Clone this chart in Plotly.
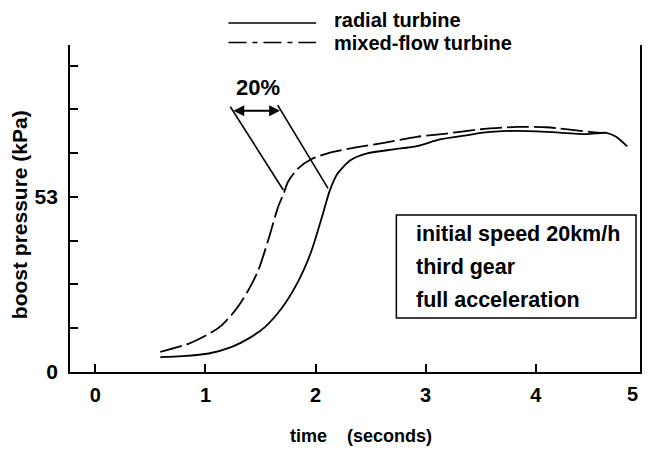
import plotly.graph_objects as go

# ---- data ----
radial_t = [0.59, 0.79, 1.03, 1.24, 1.39, 1.54, 1.69, 1.84, 1.96, 2.05, 2.13, 2.20, 2.32,
            2.47, 2.71, 2.92, 3.13, 3.38, 3.50, 3.80, 4.10, 4.46, 4.64, 4.73, 4.83]
radial_p = [4.5, 4.8, 5.6, 7.6, 10.1, 13.6, 19.2, 27.3, 36.4, 46.0, 55.0, 60.1, 64.2,
            66.2, 67.4, 68.4, 70.4, 71.7, 72.4, 73.0, 72.7, 72.0, 72.4, 71.2, 68.3]

mixed_t = [0.59, 0.85, 1.06, 1.15, 1.24, 1.32, 1.39, 1.48, 1.57, 1.66, 1.71, 1.75, 1.84,
           1.96, 2.11, 2.32, 2.62, 2.92, 3.19, 3.50, 3.83, 4.10, 4.49, 4.60]
mixed_p = [6.1, 8.6, 12.1, 14.2, 17.4, 21.0, 24.8, 30.8, 39.9, 50.0, 54.0, 57.6, 61.6,
           64.4, 66.2, 67.7, 69.4, 71.2, 72.2, 73.5, 74.2, 74.1, 72.7, 72.4]

x_ticks = [0, 1, 2, 3, 4]
x_edge_label = "5"
y_ticks = [0, 13.25, 26.5, 39.75, 53, 66.25, 79.5, 92.75]
y_ticktext = ["0", "", "", "", "53", "", "", ""]

series_names = ["radial turbine", "mixed-flow turbine"]
note_lines = ["initial speed 20km/h", "third gear", "full acceleration"]
delta_label = "20%"
# 20% annotation guide lines (time, kPa)
guide_left = [(1.226, 80.3), (1.707, 55.1)]
guide_right = [(1.656, 80.8), (2.113, 55.6)]
arrow_span = (1.241, 1.677, 79.1)

FONT = "Liberation Sans, Arial, Helvetica, sans-serif"

# plot area in page pixels: x 70..642, y 45..372 (page body has an 8px margin)
PW, PH = 572, 327

def px(xpage):
    return (xpage - 70) / PW

def py(ypage):
    return (372 - ypage) / PH

fig = go.Figure()
fig.add_trace(go.Scatter(x=radial_t, y=radial_p, mode="lines", name=series_names[0],
                         line=dict(color="black", width=1.8, shape="spline", smoothing=0.7)))
fig.add_trace(go.Scatter(x=mixed_t, y=mixed_p, mode="lines", name=series_names[1],
                         line=dict(color="black", width=1.8, dash="22px,5px",
                                   shape="spline", smoothing=0.7)))

shapes = []
for g in (guide_left, guide_right):
    shapes.append(dict(type="line", xref="x", yref="y", x0=g[0][0], y0=g[0][1],
                       x1=g[1][0], y1=g[1][1], line=dict(color="black", width=1.6)))
# legend samples
shapes.append(dict(type="line", xref="paper", yref="paper", x0=px(229), x1=px(317),
                   y0=py(23), y1=py(23), line=dict(color="black", width=1.6)))
shapes.append(dict(type="line", xref="paper", yref="paper", x0=px(229), x1=px(317),
                   y0=py(42.5), y1=py(42.5),
                   line=dict(color="black", width=1.6, dash="18px,6px,5px,6px")))
# note box
shapes.append(dict(type="rect", xref="paper", yref="paper", x0=px(397.5), x1=px(638),
                   y0=py(318), y1=py(215), line=dict(color="black", width=1.5)))
fig.update_layout(shapes=shapes)

LEG = dict(size=20, family=FONT, color="black", weight="bold")
BOX = dict(size=21.5, family=FONT, color="black", weight="bold")
ann = []
ann.append(dict(xref="paper", yref="paper", x=px(333), y=py(20), text=series_names[0],
                showarrow=False, xanchor="left", yanchor="middle", font=LEG))
ann.append(dict(xref="paper", yref="paper", x=px(333), y=py(42.5), text=series_names[1],
                showarrow=False, xanchor="left", yanchor="middle", font=LEG))
for txt, yy in zip(note_lines, [233.5, 266.5, 300]):
    ann.append(dict(xref="paper", yref="paper", x=px(415), y=py(yy), text=txt, showarrow=False,
                    xanchor="left", yanchor="middle", font=BOX))
ann.append(dict(xref="x", yref="y", x=1.48, y=86.2, text=delta_label, showarrow=False,
                font=dict(size=22, family=FONT, color="black", weight="bold")))
ann.append(dict(xref="x", yref="y", x=arrow_span[1], y=arrow_span[2], ax=arrow_span[0],
                ay=arrow_span[2], axref="x", ayref="y", text="", showarrow=True,
                arrowhead=2, arrowside="end+start", arrowsize=1.2, arrowwidth=1.8,
                arrowcolor="black", standoff=0, startstandoff=0))
ann.append(dict(xref="paper", yref="paper", x=px(19), y=py(215), text="boost pressure (kPa)",
                showarrow=False, textangle=-90, xanchor="center", yanchor="middle",
                font=dict(size=21, family=FONT, color="black", weight="bold")))
ann.append(dict(xref="paper", yref="paper", x=px(362), y=py(436),
                text="time\u00a0\u00a0\u00a0\u00a0(seconds)", showarrow=False,
                xanchor="center", yanchor="middle",
                font=dict(size=18, family=FONT, color="black", weight="bold")))
# the x=5 tick label sits at the very right edge of the chart
ann.append(dict(xref="paper", yref="paper", x=px(642), y=py(394), text=x_edge_label,
                showarrow=False, xanchor="right", yanchor="middle",
                font=dict(size=20, family=FONT, color="black", weight="bold")))
fig.update_layout(annotations=ann)

x_scale = 110.5  # px per second, as in the original
fig.update_xaxes(range=[-0.23, -0.23 + PW / x_scale], tickvals=x_ticks,
                 ticktext=[str(v) for v in x_ticks],
                 ticks="inside", ticklen=8, tickwidth=1.5, tickcolor="black",
                 showline=True, linecolor="black", linewidth=1.8, mirror=False,
                 showgrid=False, zeroline=False, ticklabelstandoff=4,
                 tickfont=dict(size=20, family=FONT, color="black", weight="bold"))
fig.update_yaxes(range=[0, 99], tickvals=y_ticks, ticktext=y_ticktext,
                 ticks="inside", ticklen=8, tickwidth=1.5, tickcolor="black",
                 showline=True, linecolor="black", linewidth=1.8, mirror=True,
                 showgrid=False, zeroline=False, ticklabelstandoff=6,
                 tickfont=dict(size=21, family=FONT, color="black", weight="bold"))

# figure fits inside the 651x455 window together with the 8px body margin
fig.update_layout(width=635, height=439, autosize=False,
                  margin=dict(l=62, r=1, t=37, b=75),
                  plot_bgcolor="white", paper_bgcolor="white", showlegend=False)

fig.write_html("out.html")
